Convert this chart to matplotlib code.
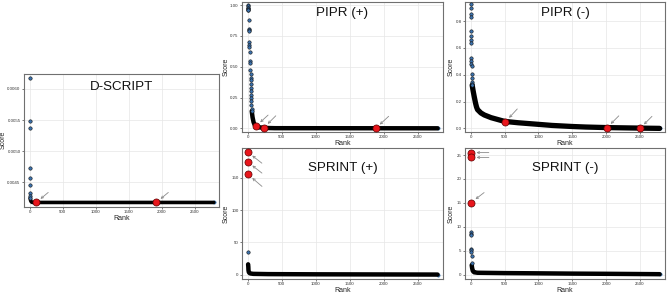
import numpy as np
import matplotlib
matplotlib.use("Agg")
import matplotlib.pyplot as plt
from matplotlib.ticker import FormatStrFormatter

plt.rcParams['font.family'] = ['Liberation Sans', 'DejaVu Sans']

# ---- data (rank, score) ----
# D-SCRIPT
ds_top_rank = [1, 2, 3, 4, 5, 6, 7, 8, 9]
ds_top_score = [0.00618, 0.00549, 0.00537, 0.00473, 0.00458, 0.00446, 0.00433, 0.00429, 0.00425]
ds_tail_rank = [9, 15, 25, 40, 80, 500, 2790]
ds_tail_score = [0.00425, 0.00421, 0.00419, 0.00418, 0.00418, 0.00418, 0.00418]
ds_red_rank = [100, 1920]
ds_red_score = [0.00418, 0.00418]

# PIPR (+)
pp_top_rank = [1, 2, 3, 4, 5, 6, 8, 12, 15, 16, 18, 22, 24, 25, 27, 33, 35, 38, 40,
               41, 43, 45, 46, 47, 49, 50, 52, 54, 56, 58]
pp_top_score = [1.00, 0.99, 0.98, 0.975, 0.97, 0.965, 0.96, 0.88, 0.81, 0.80, 0.79, 0.70,
                0.68, 0.66, 0.62, 0.55, 0.53, 0.47, 0.44, 0.41, 0.39, 0.36, 0.33, 0.30,
                0.27, 0.25, 0.22, 0.19, 0.16, 0.14]
pp_tail_rank = [58, 70, 85, 100, 130, 170, 250, 400, 2790]
pp_tail_score = [0.14, 0.09, 0.05, 0.03, 0.015, 0.008, 0.003, 0.001, 0.0]
pp_red_rank = [122, 235, 1880]
pp_red_score = [0.018, 0.004, 0.0]

# PIPR (-)
pm_top_rank = [1, 2, 3, 4, 5, 6, 7, 8, 9, 10, 11, 12, 13, 15, 17, 19, 21]
pm_top_score = [0.924, 0.899, 0.85, 0.83, 0.726, 0.689, 0.661, 0.637, 0.528, 0.50,
                0.483, 0.463, 0.404, 0.372, 0.345, 0.334, 0.322]
pm_tail_rank = [21, 35, 50, 70, 85, 100, 150, 200, 300, 500, 700, 1000, 1200, 1500,
                1700, 2000, 2500, 2790]
pm_tail_score = [0.322, 0.28, 0.24, 0.19, 0.16, 0.14, 0.115, 0.10, 0.08, 0.052, 0.042,
                 0.03, 0.022, 0.014, 0.01, 0.006, 0.002, 0.0]
pm_red_rank = [510, 2010, 2500]
pm_red_score = [0.048, 0.004, 0.0]

# SPRINT (+)
sp_top_rank = [4]
sp_top_score = [35.4]
sp_tail_rank = [5, 8, 10, 15, 25, 40, 80, 300, 1000, 2790]
sp_tail_score = [16, 12, 7, 4, 2.5, 1.8, 1.2, 0.8, 0.5, 0.1]
sp_red_rank = [1, 2, 3]
sp_red_score = [190, 174.6, 155.5]

# SPRINT (-)
sm_top_rank = [6, 7, 8, 9, 10, 11, 12, 13]
sm_top_score = [8.9, 8.6, 8.2, 5.3, 5.1, 4.8, 3.8, 2.5]
sm_tail_rank = [14, 20, 30, 50, 100, 500, 1000, 1500, 2000, 2790]
sm_tail_score = [2.0, 1.4, 0.8, 0.5, 0.4, 0.33, 0.28, 0.22, 0.18, 0.1]
sm_red_rank = [1, 2, 5]
sm_red_score = [25.5, 24.5, 15.06]

W, H = 669, 293
fig = plt.figure(figsize=(W / 100, H / 100), dpi=100)


def make_ax(left, top, right, bottom):
    ax = fig.add_axes([left / W, 1 - bottom / H, (right - left) / W, (bottom - top) / H])
    ax._px = (right - left, bottom - top)
    return ax


def panel(ax, title, top_r, top_s, tail_r, tail_s, red_r, red_s, arrows,
          ylim, yticks, yfmt, title_y, lw=3.2, score_dx=-12.5):
    ax.grid(True, color='#e6e6e6', lw=0.5)
    ax.set_axisbelow(True)
    ax.plot(tail_r, tail_s, color='black', lw=lw, solid_capstyle='round', zorder=2)
    ax.scatter(top_r, top_s, s=6, color='#3b72ad', edgecolors='#111111',
               linewidths=0.4, zorder=3)
    ax.scatter(tail_r[-1:], tail_s[-1:], s=6, color='#3b72ad', edgecolors='#3b72ad',
               linewidths=0.3, zorder=1)
    ax.scatter(red_r, red_s, s=26, color='#e8161c', edgecolors='#5a0000',
               linewidths=0.5, zorder=4)
    for (r, s), (dx, dy) in zip(zip(red_r, red_s), arrows):
        ax.annotate('', xy=(r, s), xytext=(dx, dy), textcoords='offset pixels',
                    arrowprops=dict(arrowstyle='->', color='#8a8a8a', lw=0.6,
                                    shrinkA=0, shrinkB=4, mutation_scale=4))
    ax.set_xlim(-85, 2870)
    ax.set_ylim(*ylim)
    ax.set_xticks([0, 500, 1000, 1500, 2000, 2500])
    ax.set_yticks(yticks)
    ax.yaxis.set_major_formatter(FormatStrFormatter(yfmt))
    ax.tick_params(labelsize=3.2, length=1.5, width=0.5, pad=1,
                   colors='#444444', labelcolor='#333333')
    for sp in ax.spines.values():
        sp.set_color('#707070')
        sp.set_linewidth(0.8)
    w, h = ax._px
    ax.set_xlabel('Rank', fontsize=5, color='#222222')
    ax.set_ylabel('Score', fontsize=5, color='#222222')
    ax.xaxis.set_label_coords(0.5, -8 / h)
    ax.yaxis.set_label_coords(score_dx / w, 0.5)
    ax.text(0.5, title_y, title, transform=ax.transAxes, ha='center', va='center',
            fontsize=9.6, color='#111111')


ax1 = make_ax(24, 74, 219, 206.5)
panel(ax1, 'D-SCRIPT', ds_top_rank, ds_top_score, ds_tail_rank, ds_tail_score,
      ds_red_rank, ds_red_score, [(12, 10), (12, 10)],
      (0.004115, 0.00624), [0.0045, 0.0050, 0.0055, 0.0060], '%.4f', 0.90, lw=2.6,
      score_dx=-17)

ax2 = make_ax(242, 1.5, 443, 132)
panel(ax2, 'PIPR (+)', pp_top_rank, pp_top_score, pp_tail_rank, pp_tail_score,
      pp_red_rank, pp_red_score, [(12, 11), (12, 12), (13, 12)],
      (-0.03, 1.03), [0, 0.25, 0.5, 0.75, 1.0], '%.2f', 0.91)

ax3 = make_ax(465, 1.5, 665, 132)
panel(ax3, 'PIPR (-)', pm_top_rank, pm_top_score, pm_tail_rank, pm_tail_score,
      pm_red_rank, pm_red_score, [(12, 13), (12, 12), (12, 12)],
      (-0.027, 0.946), [0, 0.2, 0.4, 0.6, 0.8], '%.1f', 0.91, lw=3.8, score_dx=-10.5)

ax4 = make_ax(242, 148.3, 443, 278.5)
panel(ax4, 'SPRINT (+)', sp_top_rank, sp_top_score, sp_tail_rank, sp_tail_score,
      sp_red_rank, sp_red_score, [(14, -11), (14, -11), (14, -12)],
      (-6, 196), [0, 50, 100, 150], '%d', 0.85)

ax5 = make_ax(465, 148.3, 665, 278.5)
panel(ax5, 'SPRINT (-)', sm_top_rank, sm_top_score, sm_tail_rank, sm_tail_score,
      sm_red_rank, sm_red_score, [(18, 0), (18, 0), (13, 10)],
      (-0.8, 26.4), [0, 5, 10, 15, 20, 25], '%d', 0.85, score_dx=-10.5)

fig.savefig('out.png', dpi=100)
